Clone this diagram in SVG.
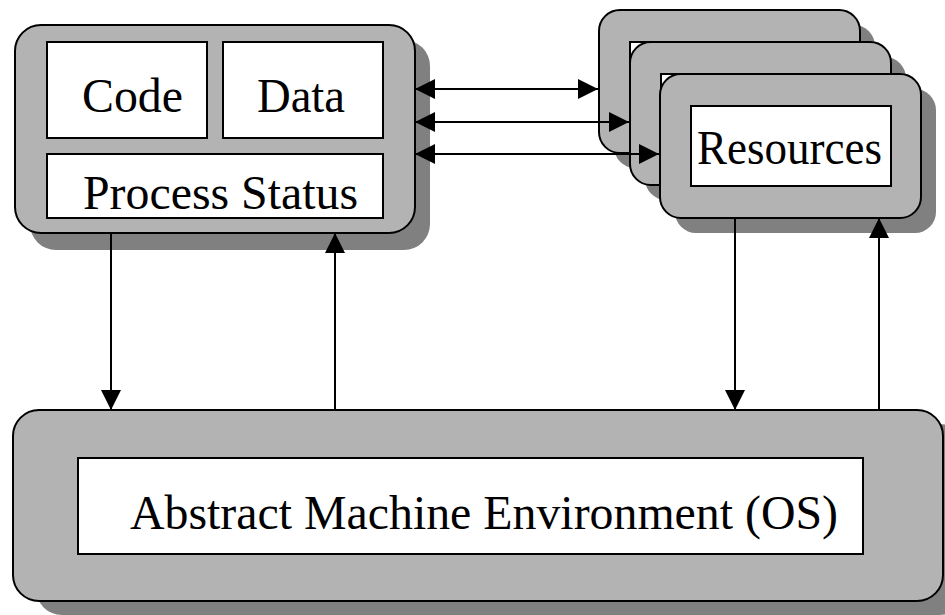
<svg xmlns="http://www.w3.org/2000/svg" width="945" height="615" viewBox="0 0 945 615">
<style>
.shadow{fill:#808080;stroke:none}
.outer{fill:#b3b3b3;stroke:#000;stroke-width:2}
.inner{fill:#fff;stroke:#000;stroke-width:2}
.lbl{font-family:'Liberation Serif','Times New Roman',Times,Tinos,'Noto Serif','DejaVu Serif',FreeSerif,serif;font-size:48px;fill:#000}
.conn{stroke:#000;stroke-width:2;fill:none}
</style>
<defs>
<marker id="ah" viewBox="0 0 20 20" refX="20" refY="10" markerWidth="20" markerHeight="20" markerUnits="userSpaceOnUse" orient="auto-start-reverse">
<path d="M0,0 L20,10 L0,20 z" fill="#000"/>
</marker>
</defs>
<rect width="945" height="615" fill="#fff"/>
<g id="process">
<rect class="shadow" x="30" y="40" width="400" height="210" rx="26"/>
<rect class="outer" x="15" y="25" width="400" height="208" rx="26"/>
<rect class="inner" x="47" y="42" width="160" height="96"/>
<rect class="inner" x="223" y="42" width="160" height="96"/>
<rect class="inner" x="47" y="154" width="336" height="64"/>
<text class="lbl" x="82" y="112" textLength="101" lengthAdjust="spacingAndGlyphs">Code</text>
<text class="lbl" x="257" y="112" textLength="88" lengthAdjust="spacingAndGlyphs">Data</text>
<text class="lbl" x="83" y="209" textLength="275" lengthAdjust="spacingAndGlyphs">Process Status</text>
</g>
<g id="resource1">
<rect class="shadow" x="614" y="25" width="261" height="143" rx="21"/>
<rect class="outer" x="599" y="10" width="261" height="143" rx="21"/>
<rect class="inner" x="630" y="42" width="200" height="80"/>
</g>
<g id="resource2">
<rect class="shadow" x="645" y="57" width="261" height="143" rx="21"/>
<rect class="outer" x="630" y="42" width="261" height="143" rx="21"/>
<rect class="inner" x="661" y="74" width="200" height="80"/>
</g>
<g id="resource3">
<rect class="shadow" x="675" y="89" width="261" height="144" rx="21"/>
<rect class="outer" x="660" y="74" width="261" height="144" rx="21"/>
<rect class="inner" x="691" y="106" width="200" height="80"/>
<text class="lbl" x="697" y="164" textLength="185" lengthAdjust="spacingAndGlyphs">Resources</text>
</g>
<g id="os">
<rect class="shadow" x="36" y="424" width="930" height="191" rx="26"/>
<rect class="outer" x="13" y="410" width="930" height="191" rx="26"/>
<rect class="inner" x="78" y="458" width="785" height="96"/>
<text class="lbl" x="130" y="529" textLength="708" lengthAdjust="spacingAndGlyphs">Abstract Machine Environment (OS)</text>
</g>
<g id="connectors">
<line class="conn" x1="415" y1="89" x2="598" y2="89" marker-start="url(#ah)" marker-end="url(#ah)"/>
<line class="conn" x1="415" y1="122" x2="629" y2="122" marker-start="url(#ah)" marker-end="url(#ah)"/>
<line class="conn" x1="415" y1="154" x2="659" y2="154" marker-start="url(#ah)" marker-end="url(#ah)"/>
<line class="conn" x1="111" y1="233" x2="111" y2="410" marker-end="url(#ah)"/>
<line class="conn" x1="335" y1="410" x2="335" y2="233" marker-end="url(#ah)"/>
<line class="conn" x1="735" y1="218" x2="735" y2="410" marker-end="url(#ah)"/>
<line class="conn" x1="879" y1="410" x2="879" y2="218" marker-end="url(#ah)"/>
</g>
</svg>
